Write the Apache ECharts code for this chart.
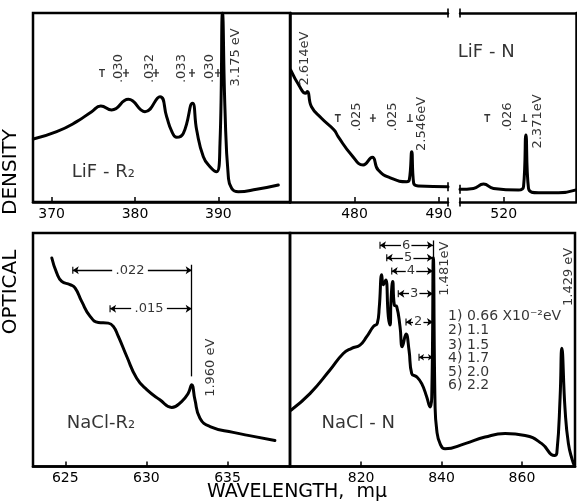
<!DOCTYPE html>
<html>
<head>
<meta charset="utf-8">
<script src="https://cdn.jsdelivr.net/npm/echarts@6/dist/echarts.min.js"></script>
<style>
html, body { margin: 0; padding: 0; background: #fff; }
#chart { width: 577px; height: 503px; }
</style>
</head>
<body>
<div id="chart"></div>
<script>
// LiF-R2 (top left), wavelength in m-mu, optical density in arbitrary units 0-100
const lifR2Wl = [367.8, 370.6, 373.0, 374.8, 375.9, 377.2, 379.2, 381.2, 383.0, 383.8, 384.4, 385.0, 385.8, 386.9, 387.4, 388.2, 389.0, 389.8, 390.2, 390.5, 390.8, 391.2, 391.6, 392.4, 394.6, 397.2];
const lifR2Od = [33.3, 37.2, 42.5, 47.8, 50.8, 48.7, 54.3, 47.8, 55.7, 45.1, 37.5, 34.2, 36.3, 52.2, 38.1, 24.0, 18.7, 16.0, 31.2, 100, 48.7, 13.4, 7.2, 5.4, 6.7, 9.0];

// LiF-N (top right), two pieces either side of the axis break
const lifNWlA = [472.42, 473.49, 474.17, 474.40, 474.88, 476.07, 477.57, 478.05, 479.64, 481.02, 482.10, 482.81, 484.40, 486.19, 486.50, 486.79, 487.02, 487.57, 491.1];
const lifNOdA = [69.8, 61.0, 57.5, 58.4, 50.4, 44.3, 38.1, 34.6, 24.9, 19.6, 23.7, 16.9, 12.5, 10.7, 11.6, 26.6, 9.9, 8.5, 8.1];
const lifNWlB = [514.8, 516.40, 517.60, 518.79, 521.76, 522.36, 522.64, 522.95, 524.14, 526.52, 528.51];
const lifNOdB = [6.7, 7.2, 9.5, 7.2, 6.3, 8.1, 35.4, 7.2, 4.9, 4.9, 6.3];

// NaCl-R2 (bottom left)
const naclR2Wl = [624.17, 624.47, 624.78, 625.29, 625.60, 626.01, 626.53, 627.04, 627.65, 627.96, 628.27, 628.79, 629.40, 630.02, 630.83, 631.56, 632.17, 632.58, 632.79, 632.99, 633.30, 633.92, 635.35, 636.59, 637.92];
const naclR2Od = [89.3, 82.9, 79.3, 77.9, 76.5, 70.7, 64.3, 61.7, 61.4, 60.0, 55.7, 47.1, 37.8, 32.9, 28.6, 25.3, 27.8, 31.4, 35.0, 28.6, 20.7, 17.1, 14.6, 12.9, 11.1];

// NaCl-N (bottom right)
const naclNWl = [802.53, 807.26, 812.24, 815.55, 817.64, 819.71, 821.38, 823.02, 824.02, 824.52, 825.11, 825.51, 826.11, 826.76, 827.18, 827.43, 827.85, 828.25, 828.85, 829.67, 830.24, 831.16, 831.91, 832.58, 833.83, 835.07, 836.32, 837.14, 837.56, 837.96, 838.38, 838.81, 839.63, 840.87, 845.85, 850.83, 855.81, 860.79, 864.94, 868.08, 868.68, 869.50, 869.92, 870.74, 871.56, 872.56, 873.05];
const naclNOd = [24.1, 31.2, 41.3, 48.4, 50.6, 52.0, 55.6, 59.9, 61.3, 68.5, 82.1, 77.8, 79.9, 64.2, 60.6, 71.3, 79.2, 69.2, 68.5, 59.9, 51.3, 56.7, 49.8, 39.8, 38.4, 35.5, 29.8, 25.5, 29.8, 89.4, 26.9, 15.5, 9.8, 7.6, 9.8, 12.6, 14.1, 13.3, 9.8, 4.7, 5.7, 29.8, 50.6, 24.1, 9.8, 2.6, 0.4];

// tick labels
const tlTicks = [370, 380, 390];
const trTicksA = [480, 490];
const trTicksB = [520];
const blTicks = [625, 630, 635];
const brTicks = [820, 840, 860];

// peak spacings (text, wavelength, density)
const tlNotes = [['.030', 378.08, 70.6], ['.032', 381.8, 70.6], ['.033', 385.64, 70.6], ['.030', 389.0, 70.6], ['3.175 eV', 392.12, 76.5]];
const tlStart = [[376.04, 68.3]];
const tlMid = [[378.92, 68.3], [382.52, 68.3], [386.84, 68.3], [389.96, 68.3]];

const trNotesA = [['2.614eV', 474.08, 75.9], ['.025', 480.27, 45.0], ['.025', 484.56, 45.0], ['2.546eV', 488.01, 41.3]];
const trStartA = [[478.01, 44.4]];
const trMidA = [[482.18, 44.4]];
const trEndA = [[486.58, 44.4]];
const trNotesB = [['.026', 520.42, 45.0], ['2.371eV', 523.99, 42.6]];
const trStartB = [[518.04, 44.4]];
const trEndB = [[522.44, 44.4]];

const blSpacing = [['.022', 84.0, 625.46, 628.99], ['.015', 67.6, 627.76, 630.16]];
const blPeak = [632.79, 86.4, 38.6];

const brSpacing = [['6', 94.8, 824.69, 831.2], ['5', 89.4, 826.36, 831.7], ['4', 83.7, 827.6, 832.4], ['3', 74.0, 829.25, 833.2], ['2', 61.9, 831.16, 834.2], ['', 46.8, 834.4, null]];
const brPeak = [837.96, 96.8, 89.4];
const brLegend = ['1) 0.66 X10\u207b\u00b2eV', '2) 1.1', '3) 1.5', '4) 1.7', '5) 2.0', '6) 2.2'];
const brLegendOd = [64.2, 58.4, 52.0, 46.3, 40.5, 34.8];

var FONT = 'DejaVu Sans';
var INK = '#000';
var SYM_T = 'path://M0,0H6V1.4H3.7V8H2.3V1.4H0Z';
var SYM_BOT = 'path://M2.3,0H3.7V6.6H6V8H0V6.6H2.3Z';
var SYM_MID = 'path://M2.3,0H3.7V3.3H6V4.7H3.7V8H2.3V4.7H0V3.3H2.3Z';

function zip(xs, ys) {
  return xs.map(function (x, i) { return [x, ys[i]]; });
}

function curve(xi, yi, xs, ys, lines) {
  var s = {
    type: 'line', xAxisIndex: xi, yAxisIndex: yi, data: zip(xs, ys),
    showSymbol: false, smooth: 0.5, clip: true, silent: true,
    lineStyle: {color: INK, width: 3, join: 'round', cap: 'round'}
  };
  if (lines) {
    s.markLine = {
      silent: true, animation: false, symbol: ['none', 'none'], symbolSize: 6,
      label: {show: false}, lineStyle: {color: INK, width: 1.3, type: 'solid'},
      data: lines
    };
  }
  return s;
}

function notes(xi, yi, list, rotate, size, align) {
  return {
    type: 'scatter', xAxisIndex: xi, yAxisIndex: yi, silent: true, clip: false,
    symbolSize: 0.1, itemStyle: {color: 'rgba(0,0,0,0)'},
    data: list.map(function (n) { return {name: n[0], value: [n[1], n[2]]}; }),
    label: {
      show: true, position: 'inside', formatter: '{b}', rotate: rotate,
      color: INK, fontFamily: FONT, fontSize: size,
      align: align || 'center', verticalAlign: 'middle'
    }
  };
}

function marks(xi, yi, list, symbol, size) {
  return {
    type: 'scatter', xAxisIndex: xi, yAxisIndex: yi, silent: true, clip: false,
    symbol: symbol, symbolSize: size, itemStyle: {color: INK}, data: list
  };
}

// arrow pieces: from the gap round the label out to each end
function arrowLines(rows, rightEnd, gap) {
  var out = [];
  rows.forEach(function (r) {
    var y = r[1], left = r[2], mid = r[3];
    if (mid === null) {
      out.push([{coord: [left, y], symbol: 'arrow', symbolSize: 5}, {coord: [rightEnd, y], symbol: 'arrow', symbolSize: 5}]);
      return;
    }
    out.push([{coord: [mid - gap, y], symbol: 'none'}, {coord: [left, y], symbol: 'arrow', symbolSize: 6}]);
    out.push([{coord: [mid + gap, y], symbol: 'none'}, {coord: [rightEnd, y], symbol: 'arrow', symbolSize: 6}]);
  });
  return out;
}

function xAxis(grid, min, max, ticks, pos) {
  var top = pos === 'top';
  return {
    type: 'value', gridIndex: grid, min: min, max: max, position: pos || 'bottom',
    axisLine: {show: true, onZero: false, lineStyle: {color: INK, width: 2.5}},
    axisTick: {show: !top, inside: true, length: 5, customValues: ticks, lineStyle: {color: INK, width: 1.5}},
    axisLabel: {show: !top, customValues: ticks, color: INK, fontFamily: FONT, fontSize: 14, margin: 5},
    splitLine: {show: false}
  };
}

function yAxis(grid, line, pos) {
  return {
    type: 'value', gridIndex: grid, min: 0, max: 100, position: pos || 'left',
    axisLine: {show: line, onZero: false, lineStyle: {color: INK, width: 2.5}},
    axisTick: {show: false}, axisLabel: {show: false}, splitLine: {show: false}
  };
}

var frame = {show: true, borderColor: INK, borderWidth: 2.5, backgroundColor: 'transparent'};

var blLines = arrowLines(blSpacing, blPeak[0], 1.1);
blLines.push([{coord: [blPeak[0], blPeak[1]]}, {coord: [blPeak[0], blPeak[2]]}]);
var brLines = arrowLines(brSpacing, brPeak[0] - 0.1, 1.3);
brLines.push([{coord: [brPeak[0], brPeak[1]]}, {coord: [brPeak[0], brPeak[2]]}]);

var option = {
  animation: false,
  backgroundColor: '#fff',
  grid: [
    Object.assign({left: 33, top: 13, width: 257, height: 189}, frame),
    {left: 290, top: 13, width: 158, height: 189},
    {left: 460, top: 13, width: 116, height: 189},
    Object.assign({left: 33, top: 233, width: 257, height: 233.5}, frame),
    Object.assign({left: 290, top: 233, width: 285, height: 233.5}, frame)
  ],
  xAxis: [
    xAxis(0, 367.76, 398.6, tlTicks),
    xAxis(1, 472.33, 491.1, trTicksA),
    xAxis(1, 472.33, 491.1, [], 'top'),
    xAxis(2, 514.8, 528.6, trTicksB),
    xAxis(2, 514.8, 528.6, [], 'top'),
    xAxis(3, 623.01, 638.85, blTicks),
    xAxis(4, 802.3, 873.2, brTicks)
  ],
  yAxis: [
    yAxis(0, false),
    yAxis(1, true),
    yAxis(2, true, 'right'),
    yAxis(3, false),
    yAxis(4, false)
  ],
  graphic: [
    {type: 'text', x: 11, y: 172, rotation: Math.PI / 2, style: {text: 'DENSITY', fill: INK, font: '20px "DejaVu Sans"', align: 'center', verticalAlign: 'middle'}},
    {type: 'text', x: 11, y: 292, rotation: Math.PI / 2, style: {text: 'OPTICAL', fill: INK, font: '20px "DejaVu Sans"', align: 'center', verticalAlign: 'middle'}},
    {type: 'text', x: 297, y: 492, style: {text: 'WAVELENGTH,  m\u03bc', fill: INK, font: '19px "DejaVu Sans"', align: 'center', verticalAlign: 'middle'}}
  ],
  series: [
    curve(0, 0, lifR2Wl, lifR2Od),
    notes(0, 0, tlNotes, 90, 13),
    notes(0, 0, [['LiF - R\u2082', 376.2, 15.9]], 0, 18),
    marks(0, 0, tlStart, SYM_T, [6, 8]),
    marks(0, 0, tlMid, SYM_MID, [6, 8]),

    curve(1, 1, lifNWlA, lifNOdA),
    notes(1, 1, trNotesA, 90, 13),
    marks(1, 1, trStartA, SYM_T, [6, 8]),
    marks(1, 1, trMidA, SYM_MID, [6, 8]),
    marks(1, 1, trEndA, SYM_BOT, [6, 8]),
    marks(1, 1, [[491.1, 0], [491.1, 100], [491.1, 8.1]], 'rect', [2, 9]),

    curve(3, 2, lifNWlB, lifNOdB),
    notes(3, 2, trNotesB, 90, 13),
    notes(3, 2, [['LiF - N', 517.92, 79.4]], 0, 18),
    marks(3, 2, trStartB, SYM_T, [6, 8]),
    marks(3, 2, trEndB, SYM_BOT, [6, 8]),
    marks(3, 2, [[514.8, 0], [514.8, 100], [514.8, 6.7]], 'rect', [2, 9]),

    curve(5, 3, naclR2Wl, naclR2Od, blLines),
    notes(5, 3, blSpacing.map(function (r) { return [r[0], r[3], r[1]]; }), 0, 13),
    notes(5, 3, [['1.960 eV', 633.95, 42.3]], 90, 13),
    notes(5, 3, [['NaCl-R\u2082', 627.2, 18.6]], 0, 18),
    marks(5, 3, blSpacing.map(function (r) { return [r[2], r[1]]; }), 'rect', [1.4, 7]),

    curve(6, 4, naclNWl, naclNOd, brLines),
    notes(6, 4, brSpacing.filter(function (r) { return r[3] !== null; }).map(function (r) { return [r[0], r[3], r[1]]; }), 0, 13),
    notes(6, 4, [['1.481eV', 840.87, 84.7], ['1.429 eV', 871.57, 81.2]], 90, 13),
    notes(6, 4, brLegend.map(function (t, i) { return [t, 841.62, brLegendOd[i]]; }), 0, 14, 'left'),
    notes(6, 4, [['NaCl - N', 819.29, 18.3]], 0, 18),
    marks(6, 4, brSpacing.map(function (r) { return [r[2], r[1]]; }), 'rect', [1.4, 7])
  ]
};

var myChart = echarts.init(document.getElementById('chart'), null, {renderer: 'canvas'});
option && myChart.setOption(option);
</script>
</body>
</html>
